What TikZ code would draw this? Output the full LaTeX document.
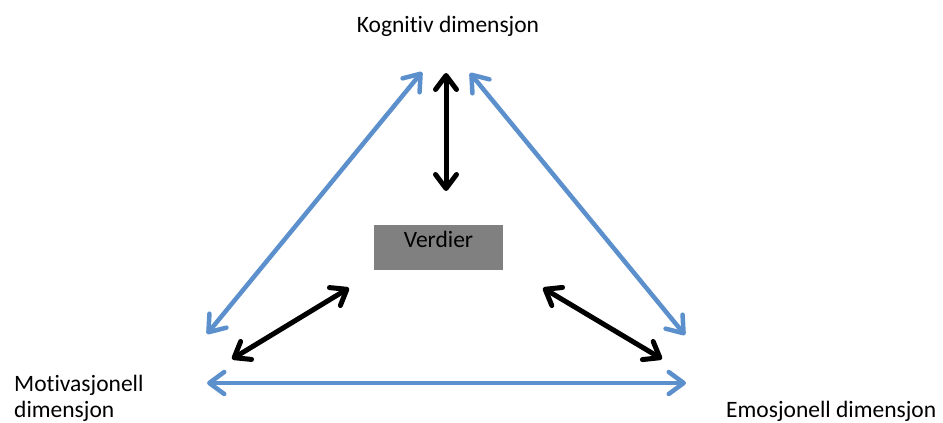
\documentclass[tikz,border=0pt]{standalone}
\usepackage{fontspec}
\setmainfont{Carlito}[Ligatures=NoCommon]
\usetikzlibrary{arrows.meta, positioning}
\definecolor{lightblue}{RGB}{92,144,204}
\definecolor{boxgray}{RGB}{128,128,128}

\begin{document}
\begin{tikzpicture}[
        x=1pt, y=-1pt,
        every node/.style={font=\fontsize{23.5}{26}\selectfont},
        dimension/.style={inner sep=0pt},
        value/.style={rectangle, fill=boxgray, minimum width=129pt, text height=22pt, text depth=23pt, inner sep=0pt},
        relation/.style={{Straight Barb[round, length=15pt, width=22pt]}-{Straight Barb[round, length=15pt, width=22pt]}, line width=4.5pt, lightblue},
        link/.style={{Straight Barb[round, length=14pt, width=21pt]}-{Straight Barb[round, length=14pt, width=21pt]}, line width=5pt, black}
        ]
        \useasboundingbox (0,0) rectangle (943,423);

        % Nodes
        \node (verdier) [value] at (438.5,247.5) {Verdier};
        \node (kognitiv) [dimension, anchor=base] at (448,32) {Kognitiv dimensjon};
        \node (motivasjonell) [dimension, anchor=north west, align=left] at (14,375) {Motivasjonell\\dimensjon};
        \node (emosjonell) [dimension, anchor=base west] at (726,417) {Emosjonell dimensjon};

        % Arrow ends
        \coordinate (kogL) at (422,72);
        \coordinate (kogM) at (446,73);
        \coordinate (kogR) at (470,73);
        \coordinate (motU) at (207,334);
        \coordinate (motM) at (232,359);
        \coordinate (motD) at (207,383);
        \coordinate (emoU) at (685,335);
        \coordinate (emoM) at (662,359);
        \coordinate (emoD) at (686,383);
        \coordinate (verT) at (446,191);
        \coordinate (verL) at (349,288);
        \coordinate (verR) at (543,288);

        % Arrows
        \draw [relation] (motU) -- (kogL);
        \draw [relation] (kogR) -- (emoU);
        \draw [relation] (motD) -- (emoD);
        \draw [link] (kogM) -- (verT);
        \draw [link] (motM) -- (verL);
        \draw [link] (verR) -- (emoM);

    \end{tikzpicture}
\end{document}
